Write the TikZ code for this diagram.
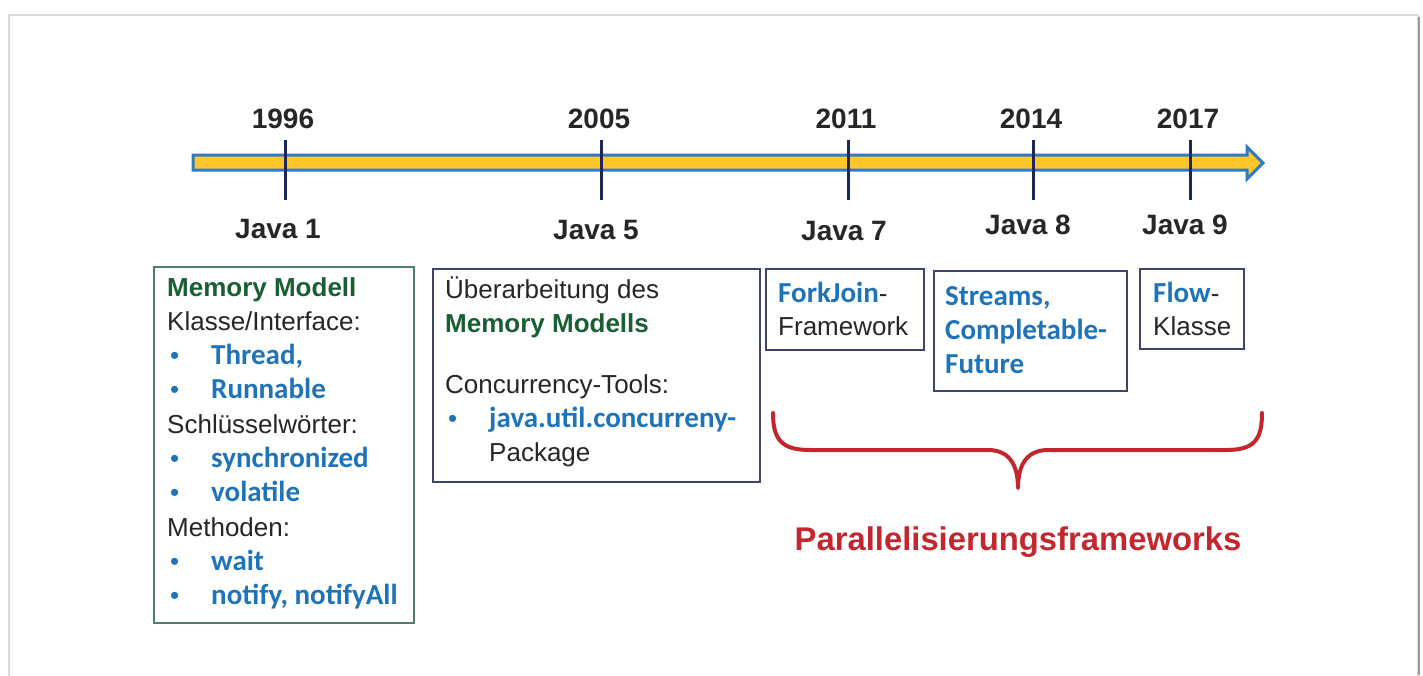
\documentclass[tikz,border=0pt]{standalone}
\usepackage{fontspec}
\setmainfont{Liberation Sans}
\newfontfamily\calibri{Carlito}
\usetikzlibrary{calc}

\definecolor{jblue}{HTML}{1F74B9}
\definecolor{mgreen}{HTML}{1A5E33}
\definecolor{txtgray}{HTML}{262626}
\definecolor{navy}{HTML}{1E2759}
\definecolor{boxnavy}{HTML}{41426E}
\definecolor{boxgreen}{HTML}{4E7D69}
\definecolor{arryellow}{HTML}{FFC72C}
\definecolor{arrblue}{HTML}{2E7BC4}
\definecolor{bracered}{HTML}{C1272D}

% bullet line and blue keyword
\newcommand{\kw}[1]{\leavevmode{\calibri\bfseries\fontsize{29}{34.3}\selectfont\color{jblue}#1}}
\newcommand{\bl}[1]{\leavevmode\makebox[44pt][l]{\hspace{3pt}\textcolor{jblue}{•}}\kw{#1}}

\tikzset{
  yearlbl/.style={anchor=base,inner sep=0,text=txtgray,font=\bfseries\fontsize{28}{34}\selectfont},
  javalbl/.style={anchor=base,inner sep=0,text=txtgray,font=\bfseries\fontsize{28}{34}\selectfont},
  tlbox/.style={draw=#1,line width=1.6pt,fill=white,anchor=north west,inner sep=0},
  boxtxt/.style={anchor=base west,inner sep=0,text=txtgray,font=\fontsize{26}{34.3}\selectfont},
}

\begin{document}
\begin{tikzpicture}[x=1pt,y=-1pt]
    \useasboundingbox (0,0) rectangle (1423,675);
    
    % slide frame
    \draw[black!15,line width=1.5pt] (9,15) rectangle (1418,690);
    \draw[black!40,line width=2pt] (1419,17) -- (1419,675);
    
    % time axis
    \draw[arrblue,fill=arryellow,line width=3pt,line join=miter]
      (193,155) -- (1247,155) -- (1247,147) -- (1263,163)
      -- (1247,179) -- (1247,170) -- (193,170) -- cycle;
    
    \foreach \t/\yr/\jv/\jx/\jy in {285/1996/1/278/238,601/2005/5/596/239,
        848/2011/7/844/240,1033/2014/8/1028/234,1190/2017/9/1185/234}
    {
    \draw[navy,line width=3pt] (\t,140) -- (\t,200);
    \node[yearlbl] (yr\yr) at (\t-2,128) {\yr};
    \node[javalbl] (jv\jv) at (\jx,\jy) {Java \jv};
    }
    
    % Java 1
    \node[tlbox=boxgreen,minimum width=260pt,minimum height=356pt] (b1) at (153,266) {};
    \node[boxtxt] (t1) at ($(b1.north west)+(14,30)$) {\parbox[t]{250pt}{\raggedright
      \textcolor{mgreen}{\bfseries Memory Modell}\\
      Klasse/Interface:\\
      \bl{Thread,}\\
      \bl{Runnable}\\
      Schlüsselwörter:\\
      \bl{synchronized}\\
      \bl{volatile}\\
      Methoden:\\
      \bl{wait}\\
      \bl{notify, notifyAll}}};
    
    % Java 5
    \node[tlbox=boxnavy,minimum width=327pt,minimum height=213pt] (b2) at (432,268) {};
    \node[boxtxt] (t2) at ($(b2.north west)+(13,30)$) {\parbox[t]{320pt}{\raggedright
      Überarbeitung des\\
      \textcolor{mgreen}{\bfseries Memory Modells}\\[26.7pt]
      Concurrency-Tools:\\
      \bl{java.util.concurreny-}\\
      \hspace*{44pt}Package}};
    
    % Java 7, 8, 9
    \node[tlbox=boxnavy,minimum width=158pt,minimum height=81pt] (b3) at (765,268) {};
    \node[boxtxt] (t3) at ($(b3.north west)+(13,34)$) {\parbox[t]{150pt}{\raggedright
      \kw{ForkJoin}-\\[-1.3pt]
      Framework}};
    
    \node[tlbox=boxnavy,minimum width=193pt,minimum height=120pt] (b4) at (933,270) {};
    \node[boxtxt] (t4) at ($(b4.north west)+(12,35)$) {\parbox[t]{185pt}{\raggedright
      \kw{Streams,}\\
      \kw{Completable-}\\[-0.5pt]
      \kw{Future}}};
    
    \node[tlbox=boxnavy,minimum width=104pt,minimum height=80pt] (b5) at (1139,268) {};
    \node[boxtxt] (t5) at ($(b5.north west)+(14,34)$) {\parbox[t]{100pt}{\raggedright
      \kw{Flow}-\\[-1.3pt]
      Klasse}};
    
    % brace over the frameworks
    \draw[bracered,line width=4pt,line cap=round,line join=round]
      (773,413) .. controls (773,440) and (782,450) .. (810,450) -- (988,450)
      .. controls (1010,450) and (1018,466) .. (1018,488)
      .. controls (1018,466) and (1026,450) .. (1048,450) -- (1226,450)
      .. controls (1254,450) and (1262,440) .. (1262,413);
    \node[anchor=base,inner sep=0,text=bracered,font=\bfseries\fontsize{32.8}{38}\selectfont]
      (pf) at (1018,550) {Parallelisierungsframeworks};
   
\end{tikzpicture}
\end{document}
